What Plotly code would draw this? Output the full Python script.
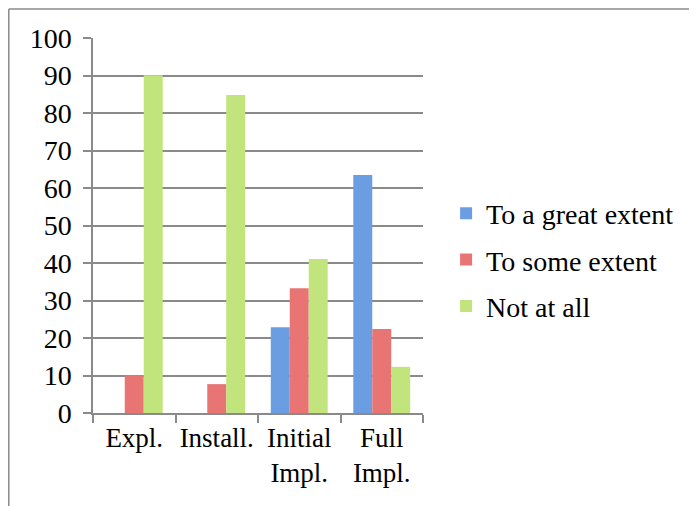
import plotly.graph_objects as go

categories = ["Expl.", "Install.", "Initial<br>Impl.", "Full<br>Impl."]
series_names = ["To a great extent", "To some extent", "Not at all"]
great = [0, 0, 22.9, 63.5]
some = [10.1, 7.7, 33.3, 22.4]
not_at_all = [90.1, 84.8, 41.1, 12.3]
y_ticks = [0, 10, 20, 30, 40, 50, 60, 70, 80, 90, 100]

colors = ["#6b9de3", "#e87474", "#c2e47c"]

L, T, PW, PH = 85, 30, 330, 375
W, H = 689, 498

fig = go.Figure()
for i, (name, vals, c) in enumerate(zip(series_names, [great, some, not_at_all], colors)):
    fig.add_trace(go.Bar(x=categories, y=vals, name=name, legendgroup=f"g{i}",
                         marker=dict(color=c, line=dict(width=0))))

font_family = "Liberation Serif, DejaVu Serif, serif"
fig.update_layout(
    width=W, height=H,
    margin=dict(l=L, r=W - L - PW, t=T, b=H - T - PH, pad=0),
    paper_bgcolor="white", plot_bgcolor="white",
    barmode="group", bargap=0.31, bargroupgap=0,
    font=dict(family=font_family, size=27, color="black"),
    showlegend=True,
    legend=dict(x=1.07, y=0.408, xanchor="left", yanchor="middle",
                font=dict(size=28), itemsizing="constant",
                tracegroupgap=7, bgcolor="rgba(0,0,0,0)"),
    xaxis=dict(showline=True, linecolor="#8a8a8a", linewidth=1.5,
               ticks="outside", ticklen=8, tickcolor="#8a8a8a", tickwidth=1.5,
               tickson="boundaries", showgrid=False, fixedrange=True,
               tickangle=0, automargin=False, tickfont=dict(size=27)),
    yaxis=dict(range=[0, 100], tickvals=y_ticks, showline=True,
               linecolor="#8a8a8a", linewidth=1.5, ticks="outside", ticklen=8,
               tickcolor="#8a8a8a", tickwidth=1.5, showgrid=True,
               gridcolor="#8a8a8a", gridwidth=1.5, zeroline=False,
               ticklabelstandoff=6, automargin=False, tickfont=dict(size=28)),
    shapes=[
        dict(type="line", xref="paper", yref="paper",
             x0=(0.8 - L) / PW, x1=(0.8 - L) / PW,
             y0=(T + PH - 1) / PH, y1=(T + PH - 530) / PH,
             line=dict(color="#8a8a8a", width=1.5)),
        dict(type="line", xref="paper", yref="paper",
             x0=(0.8 - L) / PW, x1=(720 - L) / PW,
             y0=(T + PH - 1) / PH, y1=(T + PH - 1) / PH,
             line=dict(color="#8a8a8a", width=1.5)),
    ],
)

fig.write_html("out.html")
